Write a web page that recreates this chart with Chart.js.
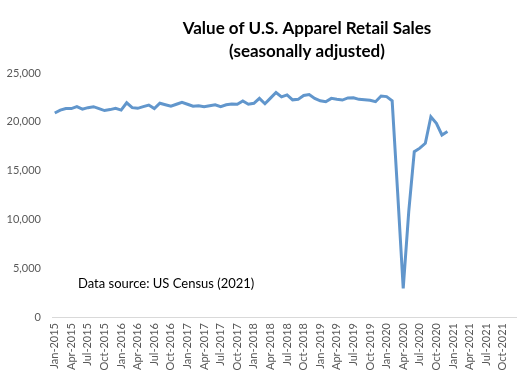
<!DOCTYPE html>
<html>
<head>
<meta charset="utf-8">
<script src="https://cdn.jsdelivr.net/npm/chart.js@4"></script>
<style>
  html, body { margin: 0; padding: 0; background: #fff; }
  #wrap { width: 522px; height: 377px; }
</style>
</head>
<body>
<div id="wrap"><canvas id="salesChart" width="522" height="377"></canvas></div>
<script>
const titleLines = ["Value of U.S. Apparel Retail Sales", "(seasonally adjusted)"];
const sourceNote = "Data source: US Census (2021)";

const monthNames = ["Jan", "Feb", "Mar", "Apr", "May", "Jun", "Jul", "Aug", "Sep", "Oct", "Nov", "Dec"];
const years = [2015, 2016, 2017, 2018, 2019, 2020, 2021];
const categories = years.flatMap(y => monthNames.map(m => m + "-" + y));

// monthly sales, Jan-2015 .. Dec-2020 (millions of dollars)
const sales = [
    20900, 21200, 21350, 21350, 21550, 21300, 21450, 21550, 21350, 21150, 21250, 21380,
    21200, 21950, 21450, 21380, 21550, 21720, 21350, 21900, 21750, 21600, 21800, 22000,
    21800, 21600, 21650, 21550, 21650, 21750, 21550, 21750, 21830, 21800, 22130, 21800,
    21900, 22400, 21850, 22430, 23000, 22550, 22750, 22250, 22300, 22700, 22800, 22400,
    22150, 22050, 22400, 22300, 22230, 22450, 22470, 22300, 22250, 22200, 22060, 22640,
    22580, 22150, 12700, 2940, 10800, 16940, 17300, 17800, 20520, 19840, 18650, 19000
];

const yTicks = [0, 5000, 10000, 15000, 20000, 25000];

const textPlugin = {
    id: 'chartTexts',
    afterDraw(chart) {
        const c = chart.ctx;
        c.save();
        c.fillStyle = '#000';
        c.textAlign = 'center';
        c.font = 'bold 17px Lato';
        c.fillText(titleLines[0], 307, 34);
        c.fillText(titleLines[1], 307, 57);
        c.textAlign = 'left';
        c.font = '13px Lato';
        c.fillText(sourceNote, 78, 288);
        c.restore();
    }
};

new Chart(document.getElementById('salesChart').getContext('2d'), {
    type: 'line',
    data: {
        labels: categories,
        datasets: [{
            label: "Apparel retail sales",
            data: sales,
            borderColor: '#6196CC',
            borderWidth: 3,
            tension: 0,
            pointRadius: 0,
            fill: false
        }]
    },
    options: {
        responsive: false,
        animation: false,
        layout: { padding: { top: 73, right: 1, left: 0, bottom: 0 } },
        scales: {
            x: {
                type: 'category',
                offset: true,
                grid: { display: false, drawTicks: false },
                border: { color: '#d9d9d9', width: 1 },
                ticks: {
                    autoSkip: false,
                    maxRotation: 90,
                    minRotation: 90,
                    padding: 6,
                    color: '#595959',
                    font: { family: 'Lato', size: 11 },
                    callback: (v, i) => (i % 3 === 0 ? categories[i] : null)
                },
                afterFit: s => { s.height = 60; }
            },
            y: {
                min: 0,
                max: 25000,
                afterBuildTicks: s => { s.ticks = yTicks.map(v => ({ value: v })); },
                grid: { display: false, drawTicks: false },
                border: { display: false },
                ticks: {
                    padding: 11,
                    color: '#595959',
                    font: { family: 'Lato', size: 11 },
                    callback: v => v.toLocaleString('en-US')
                },
                afterFit: s => { s.width = 52; }
            }
        },
        plugins: {
            legend: { display: false },
            tooltip: { enabled: false }
        }
    },
    plugins: [textPlugin]
});
</script>
</body>
</html>
